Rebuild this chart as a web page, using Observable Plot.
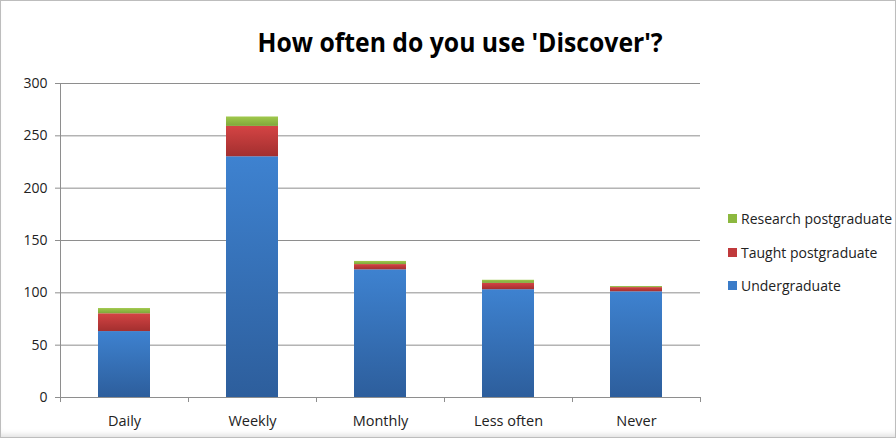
<!DOCTYPE html>
<html><head><meta charset="utf-8">
<script src="https://cdn.jsdelivr.net/npm/d3@7"></script>
<script src="https://cdn.jsdelivr.net/npm/@observablehq/plot@0.6"></script>
<style>
body{margin:0;background:#fff;}
#wrap{position:relative;width:896px;height:438px;overflow:hidden;font-family:"Open Sans",sans-serif;color:#222;}
#title{height:70px;box-sizing:border-box;padding-top:25px;text-align:center;padding-left:25px;font-weight:700;font-size:27.5px;line-height:34px;color:#000;}
#title span{display:inline-block;transform:scaleX(0.9);}
#legend{position:absolute;left:728px;top:202px;font-size:14px;color:#222;}
#legend div{height:33.5px;display:flex;align-items:center;}
#legend i{display:inline-block;width:9px;height:9px;margin-right:4px;}
#border{position:absolute;left:0;top:0;width:896px;height:438px;box-sizing:border-box;border:1px solid #bdbdbd;pointer-events:none;box-shadow:inset 0 -6px 6px -4px #ddd;}
</style></head>
<body>
<svg width="0" height="0" style="position:absolute">
<defs>
<linearGradient id="gU" x1="0" y1="0" x2="0" y2="1"><stop offset="0" stop-color="#3e82d0"/><stop offset="1" stop-color="#2d5e9c"/></linearGradient>
<linearGradient id="gT" x1="0" y1="0" x2="0" y2="1"><stop offset="0" stop-color="#d44444"/><stop offset="1" stop-color="#a32f2f"/></linearGradient>
<linearGradient id="gR" x1="0" y1="0" x2="0" y2="1"><stop offset="0" stop-color="#a0c94c"/><stop offset="1" stop-color="#7fa63a"/></linearGradient>
</defs></svg>
<div id="wrap">
<div id="title"><span>How often do you use 'Discover'?</span></div>
<div id="chart"></div>
<div id="legend"></div>
<div id="border"></div>
</div>
<script>
const categories = ["Daily", "Weekly", "Monthly", "Less often", "Never"];
const series = ["Undergraduate", "Taught postgraduate", "Research postgraduate"];
const undergraduate = [63, 230, 122, 103, 101];
const taughtPostgraduate = [17, 29, 5, 6, 4];
const researchPostgraduate = [5, 9, 3, 3, 1];
const yTicks = [0, 50, 100, 150, 200, 250, 300];
const seriesFills = ["url(#gU)", "url(#gT)", "url(#gR)"];
const legendColors = ["#3a7bc8", "#c0393b", "#8cb83f"];

const rows = [];
categories.forEach((c, i) => {
  rows.push({category: c, series: series[0], value: undergraduate[i]});
  rows.push({category: c, series: series[1], value: taughtPostgraduate[i]});
  rows.push({category: c, series: series[2], value: researchPostgraduate[i]});
});

const grid = "#8e8e8e";
const chart = Plot.plot({
  width: 896,
  height: 368,
  marginLeft: 60,
  marginRight: 196,
  marginTop: 13,
  marginBottom: 41,
  x: {domain: categories, paddingInner: 0.59, paddingOuter: 0.295},
  y: {domain: [0, 300]},
  color: {domain: series, range: seriesFills},
  style: {fontFamily: "'Open Sans', sans-serif", fontSize: "14px", color: "#222", background: "transparent", overflow: "visible"},
  marks: [
    Plot.ruleY(yTicks, {stroke: grid}),
    Plot.axisY(yTicks, {tickSize: 5, tickPadding: 8, stroke: grid, fill: "#222", fontSize: 14, label: null}),
    Plot.barY(rows, {x: "category", y: "value", fill: "series"}),
    Plot.ruleX(categories, {x: d => d, y1: 0, y2: -4.8, dx: -64, stroke: grid}),
    Plot.ruleX([categories[categories.length - 1]], {x: d => d, y1: 0, y2: -4.8, dx: 64, stroke: grid}),
    Plot.ruleX([categories[0]], {x: d => d, y1: -4.8, y2: 300, dx: -64, stroke: grid}),
    Plot.axisX({tickSize: 0, tickPadding: 18, fill: "#222", fontSize: 14.5, label: null})
  ]
});
document.getElementById("chart").appendChild(chart);

const legend = document.getElementById("legend");
[2, 1, 0].forEach(i => {
  const d = document.createElement("div");
  d.innerHTML = `<i style="background:${legendColors[i]}"></i>${series[i]}`;
  legend.appendChild(d);
});
</script>
</body></html>
